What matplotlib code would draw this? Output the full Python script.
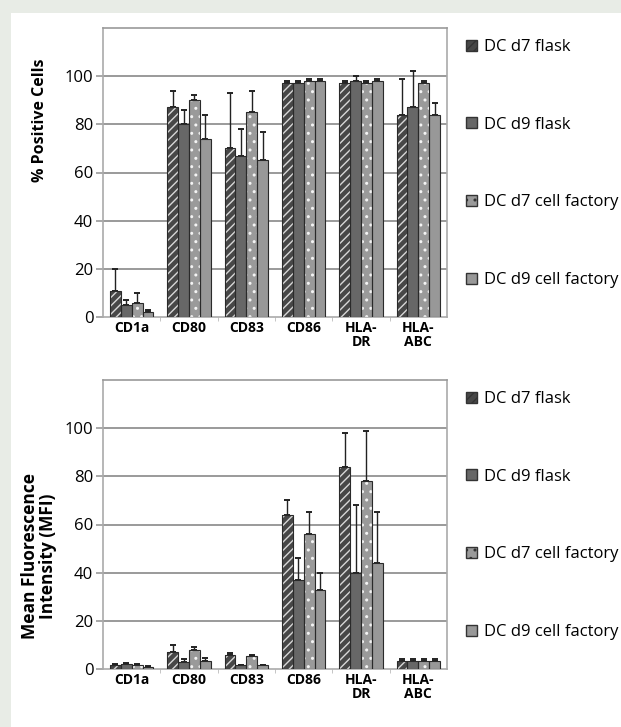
import numpy as np
import matplotlib
matplotlib.use("Agg")
import matplotlib.pyplot as plt
from matplotlib.patches import Rectangle, Patch

plt.rcParams.update({
    "font.family": ["Open Sans", "DejaVu Sans"],
})

markers = ["CD1a", "CD80", "CD83", "CD86", "HLA-\nDR", "HLA-\nABC"]
series = ["DC d7 flask", "DC d9 flask", "DC d7 cell factory", "DC d9 cell factory"]

# % positive cells (rows = series, cols = markers)
pos_mean = [
    [11, 87, 70, 97, 97, 84],
    [5, 80, 67, 97, 98, 87],
    [6, 90, 85, 98, 97, 97],
    [2, 74, 65, 98, 98, 84],
]
pos_err = [
    [9, 7, 23, 1, 1, 15],
    [2, 6, 11, 1, 2, 15],
    [4, 2, 9, 1, 1, 1],
    [1, 10, 12, 1, 1, 5],
]

# mean fluorescence intensity
mfi_mean = [
    [1.5, 7, 6, 64, 84, 3.5],
    [2, 3, 1.5, 37, 40, 3.5],
    [1.5, 8, 5.5, 56, 78, 3.5],
    [1, 3.5, 1.5, 33, 44, 3.5],
]
mfi_err = [
    [0.5, 3, 0.5, 6, 14, 0.5],
    [0.5, 1, 0.3, 9, 28, 0.5],
    [0.5, 1, 0.5, 9, 21, 0.5],
    [0.3, 1, 0.3, 7, 21, 0.5],
]

face = ["#474747", "#676767", "#9a9a9a", "#989898"]
hatch = ["////", None, "..", None]
hatch_col = ["#d8d8d8", None, "#f4f4f4", None]

fig = plt.figure(figsize=(6.21, 7.27), dpi=100, facecolor="#e8ece6")
fig.patches.append(Rectangle((11 / 621, 0), 1, 1 - 13 / 727, transform=fig.transFigure,
                             facecolor="white", edgecolor="none", zorder=-10))


def draw(ax, means, errs, ylabel, label_x, label_y, label_size):
    x = np.arange(len(markers))
    w = 0.19
    for i in range(len(series)):
        xs = x + (i - 1.5) * w
        m = np.asarray(means[i])
        e = np.asarray(errs[i])
        ax.errorbar(xs, m, yerr=[np.zeros_like(e), e], fmt="none", ecolor="#222222",
                    elinewidth=1, capsize=2.5, capthick=1.4, zorder=2)
        if hatch[i]:
            ax.bar(xs, m, w, color=face[i], edgecolor=hatch_col[i], hatch=hatch[i],
                   linewidth=0, zorder=3)
        else:
            ax.bar(xs, m, w, color=face[i], linewidth=0, zorder=3)
        ax.bar(xs, m, w, fill=False, edgecolor="#2a2a2a", linewidth=0.8, zorder=4)

    ax.set_xlim(-0.5, len(markers) - 0.5)
    ax.set_ylim(0, 120)
    ax.set_yticks([0, 20, 40, 60, 80, 100])
    ax.tick_params(axis="y", labelsize=12, length=5, color="#999999", width=1.2, pad=2)
    ax.set_xticks(x)
    ax.set_xticklabels(markers, fontsize=10, fontweight="bold", linespacing=0.95)
    ax.tick_params(axis="x", length=0, pad=3)
    ax.set_xticks(np.arange(0.5, len(markers) - 1, 1), minor=True)
    ax.tick_params(axis="x", which="minor", length=3, color="#bbbbbb")
    for v in [20, 40, 60, 80, 100]:
        ax.axhline(v, color="#9a9a9a", linewidth=1.4, zorder=1)
    for s in ax.spines.values():
        s.set_color("#aaaaaa")
        s.set_linewidth(1.2)
    ax.spines["top"].set_color("#999999")
    ax.set_ylabel(ylabel, fontsize=label_size, fontweight="bold", linespacing=1.0)
    ax.yaxis.set_label_coords(label_x, label_y)

    handles = [Patch(facecolor=face[i], edgecolor="#333333", hatch=hatch[i]) for i in range(4)]
    ax.legend(handles, series, loc="upper left", bbox_to_anchor=(1.035, 0.985), frameon=False,
              fontsize=12, labelspacing=3.7, handlelength=0.65, handleheight=0.65,
              handletextpad=0.45, borderaxespad=0)


ax1 = fig.add_axes([103 / 621, 1 - 317 / 727, 344 / 621, 289 / 727])
draw(ax1, pos_mean, pos_err, "% Positive Cells", -0.16, 0.68, 11.5)
ax2 = fig.add_axes([103 / 621, 1 - 669 / 727, 344 / 621, 289 / 727])
draw(ax2, mfi_mean, mfi_err, "Mean Fluorescence\nIntensity (MFI)", -0.135, 0.39, 12.5)

fig.savefig("out.png", dpi=100, facecolor=fig.get_facecolor())
